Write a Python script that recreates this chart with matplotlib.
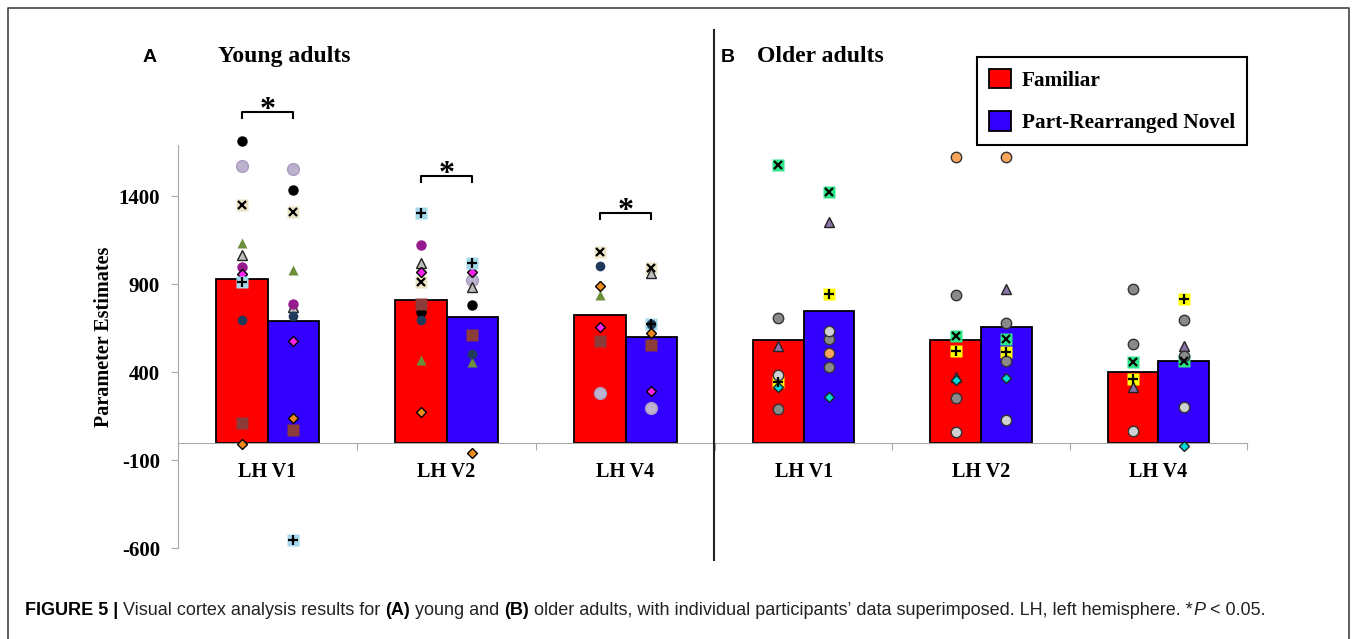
import numpy as np
import matplotlib.pyplot as plt
from matplotlib.lines import Line2D

W, H = 1354, 639
nan = np.nan

regions = ['LH V1', 'LH V2', 'LH V4']
young_familiar = [932, 812, 727]
young_novel = [693, 716, 602]
older_familiar = [585, 585, 403]
older_novel = [750, 659, 466]

# significance brackets (young adults only), bracket height per region
sig_tops = [1880, 1517, 1306]

# individual participants, order: V1 fam, V1 novel, V2 fam, V2 novel, V4 fam, V4 novel
young_black = [1715, 1437, 744, 784, nan, nan]
young_lilac = [1573, 1556, nan, 926, 284, 199]
young_beige_x = [1352, 1312, 915, nan, 1085, 994]
young_green_tri = [1136, 983, 471, 460, 841, nan]
young_gray_tri = [1068, 773, 1022, 886, nan, 965]
young_purple = [1000, 790, 1125, 1022, nan, 557]
young_magenta = [960, 579, 972, 970, 659, 295]
young_blue_plus = [915, -557, 1306, 1022, nan, 676]
young_navy = [699, 721, 699, 506, 1005, 676]
young_brown = [114, 74, 790, 613, 579, 557]
young_orange = [-11, 142, 176, -62, 892, 625]

older_green_x = [1579, 1426, 608, 591, 460, 466]
older_yellow_plus = [347, 846, 523, 517, 364, 818]
older_purple_tri = [551, 1255, 375, 875, 318, 551]
older_cyan = [318, 261, 358, 369, 68, -17]
older_orange = [nan, 511, 1625, 1625, nan, nan]
older_gray1 = [710, 591, 841, 682, 875, 699]
older_gray2 = [193, 432, 256, 466, 562, 494]
older_light = [386, 636, 62, 131, 68, 205]

young_points = [
    (young_black, [('o', 'black', 'black', 6.5)]),
    (young_lilac, [('o', '#bdb1d0', '#a99dc0', 8.5)]),
    (young_beige_x, [('s', '#ebe3c5', 'none', 8), ('x', 'black', None, 6)]),
    (young_green_tri, [('^', '#6b8f3b', 'none', 7)]),
    (young_gray_tri, [('^', '#bdbdbd', '#222222', 7)]),
    (young_purple, [('o', '#961b8f', 'none', 7.5)]),
    (young_magenta, [('D', '#ff22ee', 'black', 5.5)]),
    (young_blue_plus, [('s', '#a3d9ea', 'none', 8), ('+', 'black', None, 7)]),
    (young_navy, [('o', '#1f3b5c', 'none', 7)]),
    (young_brown, [('s', '#8c3b3b', 'none', 8)]),
    (young_orange, [('D', '#f08a1a', 'black', 5.5)]),
]
older_points = [
    (older_green_x, [('s', '#2de68a', 'none', 8), ('x', 'black', None, 6)]),
    (older_yellow_plus, [('s', '#ffff00', 'none', 8), ('+', 'black', None, 7)]),
    (older_purple_tri, [('^', '#8b74a8', '#222222', 7.5)]),
    (older_cyan, [('D', '#00d6d6', '#222222', 5.5)]),
    (older_orange, [('o', '#f6a55a', '#333333', 7.5)]),
    (older_gray1, [('o', '#8a8a8a', '#333333', 7.5)]),
    (older_gray2, [('o', '#8a8a8a', '#333333', 7.5)]),
    (older_light, [('o', '#d0d0d0', '#333333', 7.5)]),
]

red = '#ff0000'
blue = '#3300ff'
axis_gray = '#a8a8a8'
serif = 'Liberation Serif'
bw = 0.286


def fx(px):
    return px / W


def fy(py):
    return 1 - py / H


def setup(ax, left_axis):
    ax.set_xlim(0, 3)
    ax.set_ylim(-600, 1693)
    ax.patch.set_alpha(0)
    for s in ['top', 'right']:
        ax.spines[s].set_visible(False)
    ax.spines['bottom'].set_position(('data', 0))
    ax.spines['bottom'].set_color(axis_gray)
    ax.spines['left'].set_color(axis_gray)
    ax.set_xticks([0, 1, 2, 3])
    ax.set_xticklabels([])
    ax.set_xticks([0.5, 1.5, 2.5], minor=True)
    ax.set_xticklabels(regions, minor=True, fontsize=14.5, fontweight='bold', family=serif)
    ax.tick_params(axis='x', which='major', length=5, color=axis_gray, direction='out')
    ax.tick_params(axis='x', which='minor', length=0, pad=14)
    if left_axis:
        ax.set_yticks([-600, -100, 400, 900, 1400])
        ax.set_yticklabels(['-600', '-100', '400', '900', '1400'], fontsize=15,
                           fontweight='bold', family=serif)
        ax.tick_params(axis='y', length=5, color=axis_gray, pad=8)
    else:
        ax.spines['left'].set_visible(False)
        ax.set_yticks([])


def draw_points(ax, vals, layers):
    xs = [k // 2 + 0.5 + (k % 2 - 0.5) * bw for k in range(6)]
    for mk, fc, ec, ms in layers:
        if mk in ('x', '+'):
            ax.plot(xs, vals, ls='none', marker=mk, ms=ms, mew=1.6, color=fc,
                    clip_on=False, zorder=5)
        else:
            ax.plot(xs, vals, ls='none', marker=mk, ms=ms, mfc=fc, mec=ec, mew=1.0,
                    clip_on=False, zorder=4)


fig = plt.figure(figsize=(W / 100, H / 100), dpi=100)
axA = fig.add_axes([fx(178), fy(548), fx(715) - fx(178), fy(145) - fy(548)])
axB = fig.add_axes([fx(715), fy(548), fx(1247) - fx(715), fy(145) - fy(548)])
setup(axA, True)
setup(axB, False)

pos = np.arange(3) + 0.5
for ax, fam, nov, pts in [(axA, young_familiar, young_novel, young_points),
                          (axB, older_familiar, older_novel, older_points)]:
    bf = ax.bar(pos - bw / 2, fam, bw, color=red, edgecolor='black', lw=1.3, zorder=2)
    bn = ax.bar(pos + bw / 2, nov, bw, color=blue, edgecolor='black', lw=1.3, zorder=2)
    for vals, layers in pts:
        draw_points(ax, vals, layers)

for i, top in enumerate(sig_tops):
    x0, x1 = i + 0.5 - bw / 2, i + 0.5 + bw / 2
    axA.plot([x0, x0, x1, x1], [top - 35, top, top, top - 35], color='black', lw=1.5,
             clip_on=False)
    axA.text(i + 0.5, top - 35, '*', ha='center', va='baseline', fontsize=23,
             fontweight='bold', family=serif, clip_on=False)

# panel titles
fig.text(fx(150), fy(62), 'A', ha='center', va='baseline', fontsize=14,
         fontweight='bold', family='Liberation Sans')
fig.text(fx(218), fy(62), 'Young adults', ha='left', va='baseline', fontsize=17,
         fontweight='bold', family=serif)
fig.text(fx(728), fy(62), 'B', ha='center', va='baseline', fontsize=14,
         fontweight='bold', family='Liberation Sans')
fig.text(fx(757), fy(62), 'Older adults', ha='left', va='baseline', fontsize=17,
         fontweight='bold', family=serif)
fig.text(fx(104), fy(337), 'Parameter Estimates', rotation=90, ha='center', va='center',
         fontsize=14.5, fontweight='bold', family=serif)

leg = fig.legend(handles=[bf, bn], labels=['Familiar', 'Part-Rearranged Novel'],
                 loc='upper left', bbox_to_anchor=(fx(977), fy(57)),
                 bbox_transform=fig.transFigure,
                 prop=dict(family=serif, weight='bold', size=15.3),
                 frameon=True, fancybox=False, edgecolor='black', framealpha=1,
                 handlelength=1.05, handleheight=1.05, handletextpad=0.5,
                 labelspacing=0.95, borderpad=0.55, borderaxespad=0)
leg.get_frame().set_linewidth(1.5)

# divider and outer frame
fig.add_artist(Line2D([fx(714), fx(714)], [fy(30), fy(560)], color='#222222', lw=1.5))
fig.add_artist(Line2D([fx(8), fx(8), fx(1349), fx(1349)], [0, fy(8), fy(8), 0],
                      color='#444444', lw=1.2))

# caption with mixed styles
pieces = [('FIGURE 5 |', 'bold', 'normal', 'black'),
          (' Visual cortex analysis results for ', 'normal', 'normal', '#222222'),
          ('(A)', 'bold', 'normal', 'black'),
          (' young and ', 'normal', 'normal', '#222222'),
          ('(B)', 'bold', 'normal', 'black'),
          (' older adults, with individual participants\u2019 data superimposed. LH, left hemisphere. *',
           'normal', 'normal', '#222222'),
          ('P', 'normal', 'italic', '#222222'),
          (' < 0.05.', 'normal', 'normal', '#222222')]
renderer = fig.canvas.get_renderer()
x = fx(25)
for s, wt, st, c in pieces:
    t = fig.text(x, fy(615), s.replace(' ', '\u00a0'), fontsize=13, fontweight=wt,
                 fontstyle=st, family='Liberation Sans', va='baseline', color=c)
    x += t.get_window_extent(renderer).width / W

fig.savefig('out.png', dpi=100)
